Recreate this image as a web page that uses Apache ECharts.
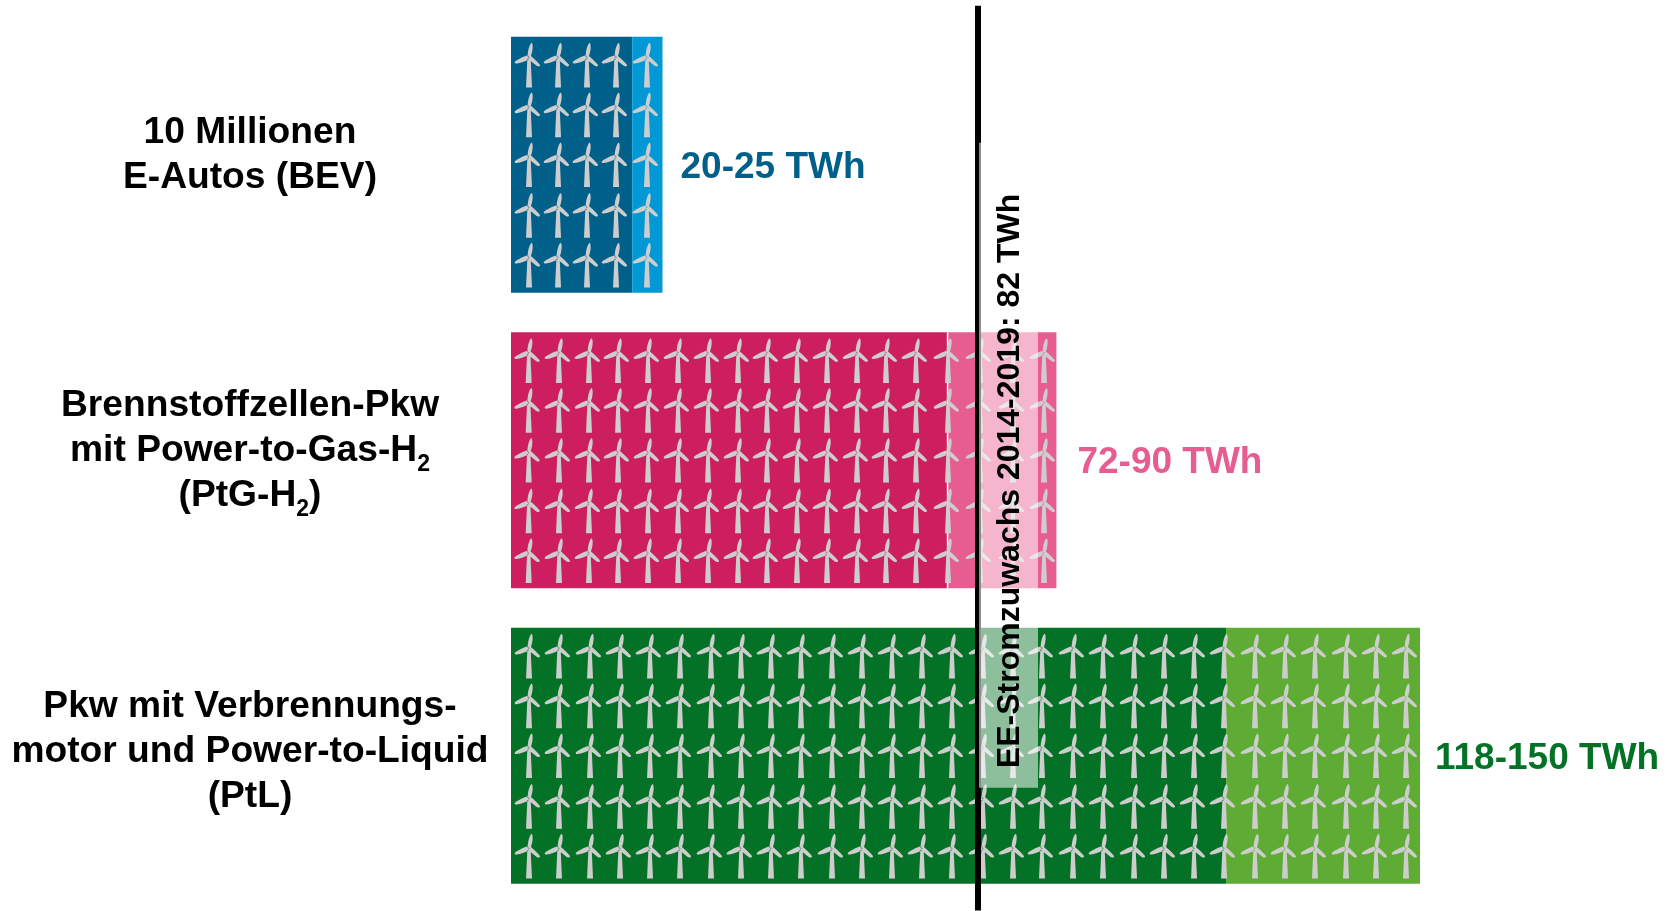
<!DOCTYPE html>
<html>
<head>
<meta charset="utf-8">
<title>Strombedarf Pkw</title>
<script src="https://cdn.jsdelivr.net/npm/echarts@6/dist/echarts.min.js"></script>
<style>
html,body{margin:0;padding:0;background:#fff;}
#chart{width:1666px;height:911px;}
</style>
</head>
<body>
<div id="chart"></div>
<script>
const categories = [
	'10 Millionen\nE-Autos (BEV)',
	'Brennstoffzellen-Pkw\nmit Power-to-Gas-H{sub|2}\n(PtG-H{sub|2})',
	'Pkw mit Verbrennungs-\nmotor und Power-to-Liquid\n(PtL)'
]
const lowTWh = [20, 72, 118]
const highTWh = [25, 90, 150]
const lowColors = ['#00608a', '#cd1f5f', '#047226']
const highColors = ['#0099d6', '#e75c91', '#5fac35']
const labelColors = ['#00608a', '#e75c91', '#047226']
const labelGaps = [18, 21, 15]
const categoryLift = [19, 19, 8]

// EE growth marker: the line sits left of the pale band, as in the picture
const growthTitle = 'EE-Stromzuwachs 2014-2019: 82 TWh'
const growthLineX = [77.06]
const growthBandX = [77.23, 86.96]

// one turbine per entry, tower position in TWh
const turbineXBev = [2.97, 7.76, 12.54, 17.33, 22.44]
const turbineXPtg = [2.92, 7.92, 12.87, 17.66, 22.61, 27.56, 32.51, 37.46, 42.24, 47.19, 52.15, 57.1, 61.88, 66.83, 72.11, 77.39, 82.84, 87.95]
const turbineXPtl = [2.97, 7.92, 13.04, 17.99, 22.94, 27.89, 33, 37.95, 42.9, 47.85, 52.97, 57.92, 62.87, 67.82, 72.77, 77.89, 82.84, 87.62, 92.74, 97.69, 102.81, 107.76, 112.71, 117.66, 122.77, 127.72, 132.67, 137.79, 142.74, 147.69]
const turbineRows = [-0.337, -0.169, 0, 0.171, 0.34]

const turbinePath = 'path://M38 48L48 48L52 134L34 134ZM39 42C39 25 44 5 51 0C56 5 55 25 48 42ZM40 37C25 41 8 50 0 57C0 62 2 62 6 62C18 60 32 56 43 49ZM47 38C57 46 70 58 76 66C76 72 72 72 66 69L41 49Z'

let turbines = []
;[turbineXBev, turbineXPtg, turbineXPtl].forEach(function(cols, cat){
	cols.forEach(function(x){
		turbineRows.forEach(function(r){
			turbines.push([x, cat + r])
		})
	})
})

const myChart = echarts.init(document.getElementById('chart'), null, {renderer: 'canvas'})

const fontFamily = '"Liberation Sans", Arial, sans-serif'

myChart.setOption({
	animation: false,
	backgroundColor: '#fff',
	grid: {left: 511, top: 17, width: 1151.4, height: 886.5, outerBoundsMode: 'none'},
	xAxis: {type: 'value', min: 0, max: 190, show: false},
	yAxis: [
		{
			type: 'category',
			data: categories.map(function(c, i){
				return {value: c, textStyle: {align: 'center', padding: [0, 0, categoryLift[i], 0]}}
			}),
			inverse: true,
			axisLine: {show: false},
			axisTick: {show: false},
			axisLabel: {
				margin: 261,
				align: 'center',
				color: '#000',
				fontFamily: fontFamily,
				fontWeight: 'bold',
				fontSize: 37.2,
				lineHeight: 45,
				rich: {
					sub: {
						fontFamily: fontFamily,
						fontWeight: 'bold',
						fontSize: 23,
						lineHeight: 45,
						color: '#000',
						verticalAlign: 'bottom',
						padding: [0, 0, -3, 0]
					}
				}
			}
		},
		{type: 'value', min: -0.5, max: 2.5, inverse: true, show: false}
	],
	series: [
		{
			type: 'bar',
			stack: 'twh',
			barWidth: 256,
			z: 2,
			data: lowTWh.map(function(v, i){
				return {value: v, itemStyle: {color: lowColors[i]}}
			})
		},
		{
			type: 'bar',
			stack: 'twh',
			barWidth: 256,
			z: 2,
			data: highTWh.map(function(v, i){
				return {
					value: v - lowTWh[i],
					itemStyle: {color: highColors[i]},
					label: {
						show: true,
						position: 'right',
						distance: labelGaps[i],
						offset: [0, 3],
						formatter: lowTWh[i] + '-' + v + ' TWh',
						color: labelColors[i],
						fontFamily: fontFamily,
						fontWeight: 'bold',
						fontSize: 37
					}
				}
			})
		},
		{
			// thin white seam between the two pink blocks
			type: 'custom',
			yAxisIndex: 1,
			z: 3,
			clip: false,
			data: [[lowTWh[1], 1]],
			renderItem: function(params, api){
				let top = api.coord([api.value(0), api.value(1) - 128 / 295.5])
				let bottom = api.coord([api.value(0), api.value(1) + 128 / 295.5])
				return {
					type: 'rect',
					shape: {x: top[0] - 0.5, y: top[1], width: 1.5, height: bottom[1] - top[1]},
					style: {fill: '#fff'}
				}
			}
		},
		{
			type: 'scatter',
			yAxisIndex: 1,
			z: 4,
			symbol: turbinePath,
			symbolSize: [25.3, 44.7],
			symbolOffset: [-1.65, 0],
			itemStyle: {color: '#cdcdcd', opacity: 1},
			data: turbines
		},
		{
			type: 'custom',
			yAxisIndex: 1,
			z: 5,
			clip: false,
			data: [[growthLineX[0], -0.538, 2.524]],
			renderItem: function(params, api){
				let top = api.coord([api.value(0), api.value(1)])
				let bottom = api.coord([api.value(0), api.value(2)])
				return {
					type: 'rect',
					shape: {x: top[0] - 3, y: top[1], width: 6, height: bottom[1] - top[1]},
					style: {fill: '#000'}
				}
			}
		},
		{
			type: 'custom',
			yAxisIndex: 1,
			z: 6,
			clip: false,
			data: [[growthBandX[0], growthBandX[1], -0.0745, 2.108]],
			renderItem: function(params, api){
				let a = api.coord([api.value(0), api.value(2)])
				let b = api.coord([api.value(1), api.value(3)])
				let c = api.coord([(api.value(0) + api.value(1)) / 2, 1.07])
				return {
					type: 'group',
					children: [
						{
							type: 'rect',
							shape: {x: a[0], y: a[1], width: b[0] - a[0], height: b[1] - a[1]},
							style: {fill: 'rgba(255,255,255,0.55)'}
						},
						{
							type: 'text',
							x: c[0] + 2,
							y: c[1],
							rotation: Math.PI / 2,
							style: {
								text: growthTitle,
								fill: '#000',
								align: 'center',
								verticalAlign: 'middle',
								font: 'bold 32px ' + fontFamily
							}
						}
					]
				}
			}
		}
	]
})
</script>
</body>
</html>
